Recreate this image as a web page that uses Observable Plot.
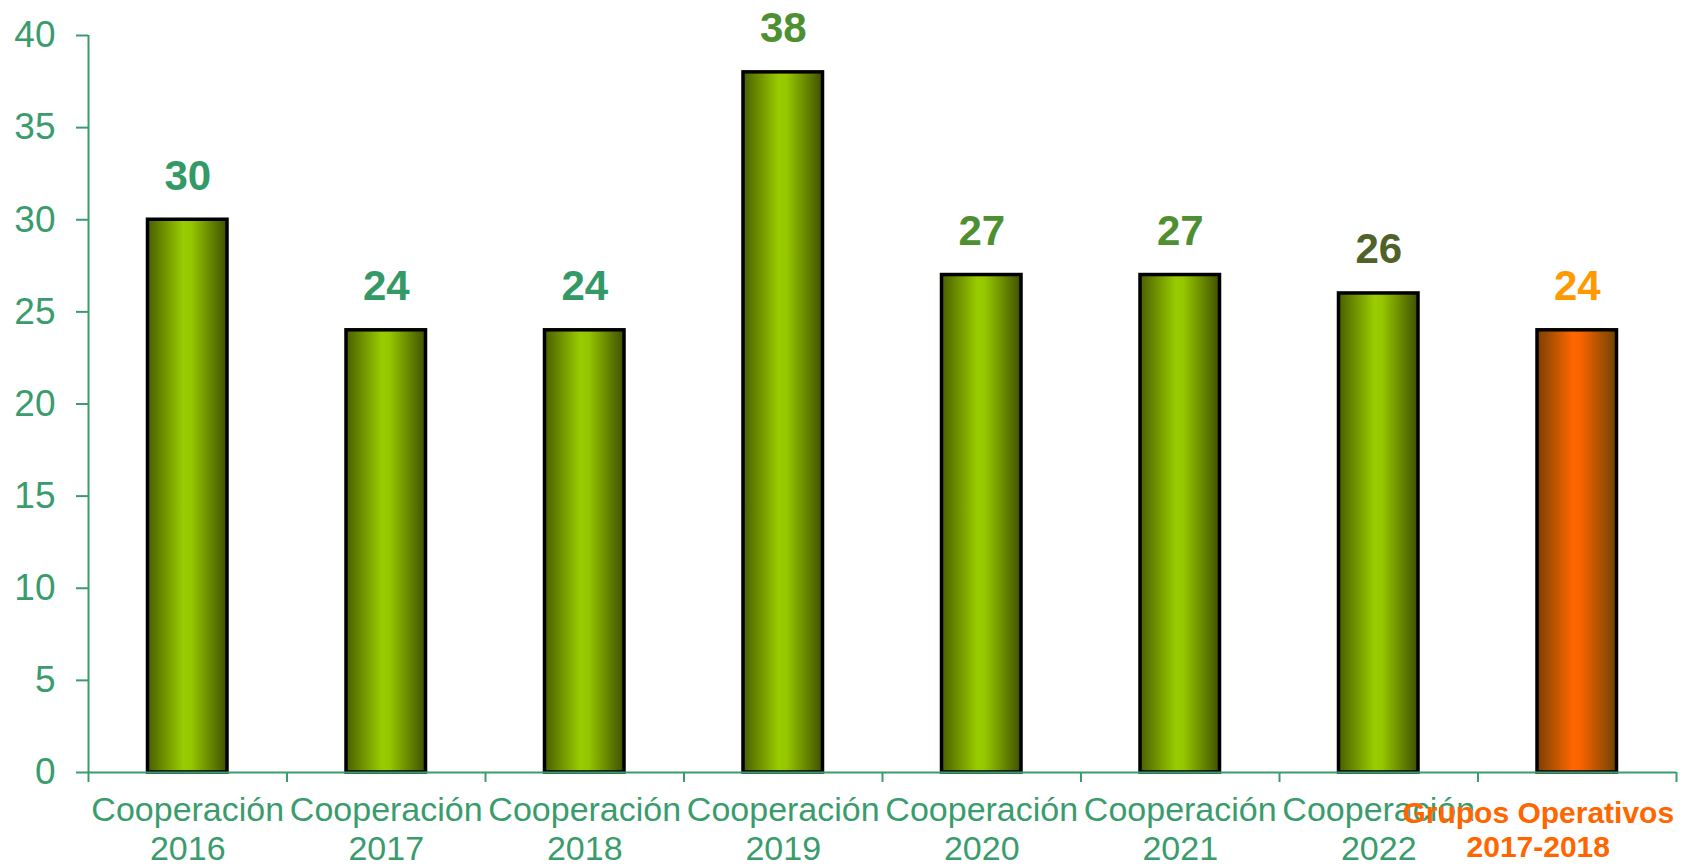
<!DOCTYPE html>
<html>
<head>
<meta charset="utf-8">
<script src="https://cdn.jsdelivr.net/npm/d3@7"></script>
<script src="https://cdn.jsdelivr.net/npm/@observablehq/plot@0.6"></script>
<style>
  html, body { margin: 0; padding: 0; background: #ffffff; }
  #chart { width: 1691px; height: 866px; }
</style>
</head>
<body>
<div id="chart"></div>
<script>
// ---- data ----
const programs = ["Cooperación", "Cooperación", "Cooperación", "Cooperación", "Cooperación", "Cooperación", "Cooperación", "Grupos Operativos"];
const periods = ["2016", "2017", "2018", "2019", "2020", "2021", "2022", "2017-2018"];
const values = [30, 24, 24, 38, 27, 27, 26, 24];
const yTicks = [0, 5, 10, 15, 20, 25, 30, 35, 40];

// ---- styles ----
const valueLabelColors = ["#339966", "#339966", "#339966", "#4E8F32", "#4E8F32", "#4E8F32", "#4F6228", "#FF9900"];
const axisColor = "#3A9C6C";

const data = values.map((v, i) => ({
  i, value: v, program: programs[i], period: periods[i], labelColor: valueLabelColors[i]
}));
const greenData = data.filter(d => d.program === "Cooperación");
const orangeData = data.filter(d => d.program !== "Cooperación");
const n = values.length;
const boundaries = d3.range(0, n + 1);

const chart = Plot.plot({
  width: 1691,
  height: 866,
  marginLeft: 88,
  marginRight: 15,
  marginTop: 35,
  marginBottom: 94,
  style: { fontFamily: "'Liberation Sans', Arial, sans-serif", background: "#ffffff", overflow: "visible" },
  x: { type: "linear", domain: [0, n], axis: null },
  y: { domain: [0, 40], axis: null },
  color: { type: "identity" },
  marks: [
    Plot.rectY(greenData, { x1: d => d.i, x2: d => d.i + 1, y: "value", insetLeft: 59.5, insetRight: 59.5,
      fill: "url(#gradGreen)", stroke: "#000000", strokeWidth: 3.5 }),
    Plot.rectY(orangeData, { x1: d => d.i, x2: d => d.i + 1, y: "value", insetLeft: 59.5, insetRight: 59.5,
      fill: "url(#gradOrange)", stroke: "#000000", strokeWidth: 3.5 }),
    Plot.text(data, { x: d => d.i + 0.5, y: "value", text: d => String(d.value), fill: d => d.labelColor,
      fontSize: 42, fontWeight: "bold", lineAnchor: "bottom", dy: -30 }),
    Plot.ruleY([0], { stroke: axisColor, strokeWidth: 2 }),
    Plot.ruleX([0], { stroke: axisColor, strokeWidth: 2 }),
    Plot.axisY({ ticks: yTicks, label: null, tickSize: 12, tickPadding: 21, fontSize: 37, color: axisColor, strokeWidth: 2, tickFormat: d => String(d) }),
    Plot.axisX({ ticks: boundaries, label: null, tickSize: 10, tickFormat: () => "", color: axisColor, strokeWidth: 2 }),
    Plot.axisX({ ticks: greenData.map(d => d.i + 0.5), label: null, tickSize: 0, tickPadding: 21, fontSize: 34, lineHeight: 1.14,
      color: axisColor,
      tickFormat: x => { const d = data[Math.floor(x)]; return d.program + "\n" + d.period; } }),
    Plot.axisX({ ticks: orangeData.map(d => d.i + 0.5), label: null, tickSize: 0, tickPadding: 27, fontSize: 30, lineHeight: 1.12,
      color: "#FF6600", fontWeight: "bold", dx: -39,
      tickFormat: x => { const d = data[Math.floor(x)]; return d.program + "\n" + d.period; } })
  ]
});

// gradient definitions for the cylinder-like bar shading
const svg = d3.select(chart);
const defs = svg.insert("defs", ":first-child");
function addGrad(id, stops) {
  const g = defs.append("linearGradient").attr("id", id).attr("x1", "0").attr("x2", "1").attr("y1", "0").attr("y2", "0");
  stops.forEach(([o, c]) => g.append("stop").attr("offset", o).attr("stop-color", c));
}
addGrad("gradGreen", [["0%", "#4A5E00"], ["45%", "#99CC00"], ["55%", "#95C600"], ["100%", "#3F5000"]]);
addGrad("gradOrange", [["0%", "#7A4000"], ["45%", "#FF6600"], ["55%", "#F86300"], ["100%", "#6E4200"]]);

document.getElementById("chart").appendChild(chart);
</script>
</body>
</html>
